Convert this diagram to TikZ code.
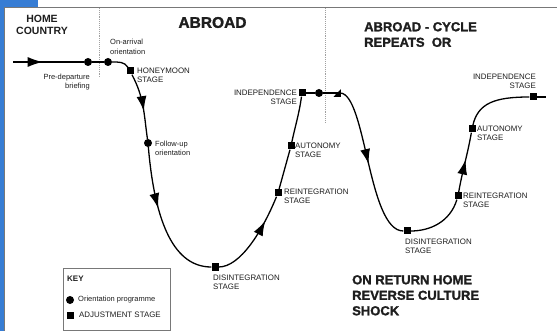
\documentclass[tikz,border=0pt]{standalone}
\usepackage{fontspec}
\setmainfont{Liberation Sans}
\newfontfamily\heavyfont[BoldFeatures={FakeBold=1.5}]{Liberation Sans}
\usetikzlibrary{decorations.markings,arrows.meta}
\definecolor{frameblue}{RGB}{55,125,212}
\definecolor{framegray}{RGB}{120,120,120}
\definecolor{txt}{RGB}{30,30,30}
\tikzset{
  curve/.style={line width=1.3pt},
  odot/.style={circle,fill=black,inner sep=0pt,minimum size=8pt},
  adj/.style={rectangle,fill=black,inner sep=0pt,minimum size=7pt},
  lbl/.style={text=txt,font=\fontsize{7.9}{9.2}\selectfont,inner sep=0pt},
  small/.style={text=txt,font=\fontsize{7.5}{9.5}\selectfont,inner sep=0pt},
  head/.style={text=txt,font=\heavyfont\bfseries\fontsize{13}{15.5}\selectfont,align=left,inner sep=0pt},
  arrowat/.style={postaction={decorate},decoration={markings,mark=at position #1 with {\arrow{Latex[length=15pt,width=10pt]}}}},
  divider/.style={framegray!70,densely dotted,line width=0.9pt}
}
\begin{document}
\begin{tikzpicture}[x=1pt,y=-1pt]
\useasboundingbox (0,0) rectangle (557,331);
\fill[white] (0,0) rectangle (557,331);
% frame
\fill[frameblue] (0,0) rectangle (38,7);
\fill[frameblue] (0,0) rectangle (4,331);
\draw[framegray,line width=1.2pt] (4.6,7.2) -- (557,7.2);
\draw[framegray,line width=1.2pt] (4.6,7.2) -- (4.6,331);
% dividers
\draw[divider] (99,8) -- (99,78);
\draw[divider] (325,8) -- (325,123);
% headings
\node[text=txt,font=\bfseries\fontsize{10.5}{12}\selectfont,align=center,inner sep=0pt] (home) at (42,25) {HOME\\COUNTRY};
\node[head,font=\heavyfont\bfseries\fontsize{15.5}{16}\selectfont] (abroad) at (212.5,22.5) {ABROAD};
\node[head,anchor=north west] (cycle) at (364,22) {ABROAD - CYCLE\\REPEATS\ \ OR};
\node[head,anchor=north west] (ret) at (352,275) {ON RETURN HOME\\REVERSE CULTURE\\SHOCK};
% points
\coordinate (s) at (13,62);
\node[odot] (d1) at (88,62) {};
\node[odot] (d2) at (108,62) {};
\node[adj] (h1) at (130,71) {};
\node[odot] (d3) at (148,143) {};
\node[adj] (s1) at (215,267) {};
\node[adj] (s2) at (278,193) {};
\node[adj] (s3) at (291,146) {};
\node[adj] (s4) at (302,93) {};
\node[odot] (d4) at (319,93) {};
\coordinate (t1) at (340,93);
\fill (333.5,96.8) -- (340.8,96.8) -- (340.8,89.2) -- cycle;
\node[adj] (s5) at (407,231) {};
\node[adj] (s6) at (458,196) {};
\node[adj] (s7) at (472,129) {};
\node[adj] (s8) at (533,97) {};
\coordinate (e) at (546,97);
% curve
\draw[curve,arrowat=0.42] (s) -- (d1);
\draw[curve] (d1) -- (d2);
\draw[curve] (d2) to[out=0,in=120] (h1);
\draw[curve,arrowat=0.58] (h1) to[out=-62,in=98] (d3);
\draw[curve,arrowat=0.42] (d3) .. controls (155,225) and (175,267) .. (s1);
\draw[curve,arrowat=0.72] (s1) .. controls (240,267) and (262,232) .. (s2);
\draw[curve] (s2) -- (s3);
\draw[curve] (s3) to[out=78,in=-98] (s4);
\draw[curve] (s4) -- (d4) -- (t1);
\draw[curve,arrowat=0.5] (t1) .. controls (366,93) and (368,231) .. (s5);
\draw[curve] (s5) .. controls (430,231) and (450,222) .. (s6);
\draw[curve,arrowat=0.55] (s6) to[out=80,in=-100] (s7);
\draw[curve] (s7) .. controls (478,103) and (495,97) .. (s8);
\draw[curve] (s8) -- (e);
% labels
\node[small,align=left,anchor=west] (l1) at (110,47) {On-arrival\\orientation};
\node[small,align=right,anchor=east] (l2) at (90,82) {Pre-departure\\briefing};
\node[lbl,align=left,anchor=west] (l3) at (137,75.5) {HONEYMOON\\STAGE};
\node[small,align=left,anchor=west] (l4) at (155,148.5) {Follow-up\\orientation};
\node[lbl,align=left,anchor=west] (l5) at (213,282) {DISINTEGRATION\\STAGE};
\node[lbl,align=left,anchor=west] (l6) at (284,196.5) {REINTEGRATION\\STAGE};
\node[lbl,align=left,anchor=west] (l7) at (295,150) {AUTONOMY\\STAGE};
\node[lbl,align=right,anchor=east] (l8) at (297,97.5) {INDEPENDENCE\\STAGE};
\node[lbl,align=left,anchor=west] (l9) at (405,246) {DISINTEGRATION\\STAGE};
\node[lbl,align=left,anchor=west] (l10) at (463,200) {REINTEGRATION\\STAGE};
\node[lbl,align=left,anchor=west] (l11) at (477,133.5) {AUTONOMY\\STAGE};
\node[lbl,align=right,anchor=east] (l12) at (536,81) {INDEPENDENCE\\STAGE};
% key
\draw[framegray,line width=0.8pt] (63,268) rectangle (170,330);
\node[text=txt,font=\bfseries\fontsize{8}{9}\selectfont,anchor=west,inner sep=0pt] (key) at (67,279) {KEY};
\node[odot] (k1) at (70,300) {};
\node[small,anchor=west] (k1t) at (78,300) {Orientation programme};
\node[adj] (k2) at (70,315) {};
\node[lbl,anchor=west] (k2t) at (79,315) {ADJUSTMENT STAGE};
\end{tikzpicture}
\end{document}
